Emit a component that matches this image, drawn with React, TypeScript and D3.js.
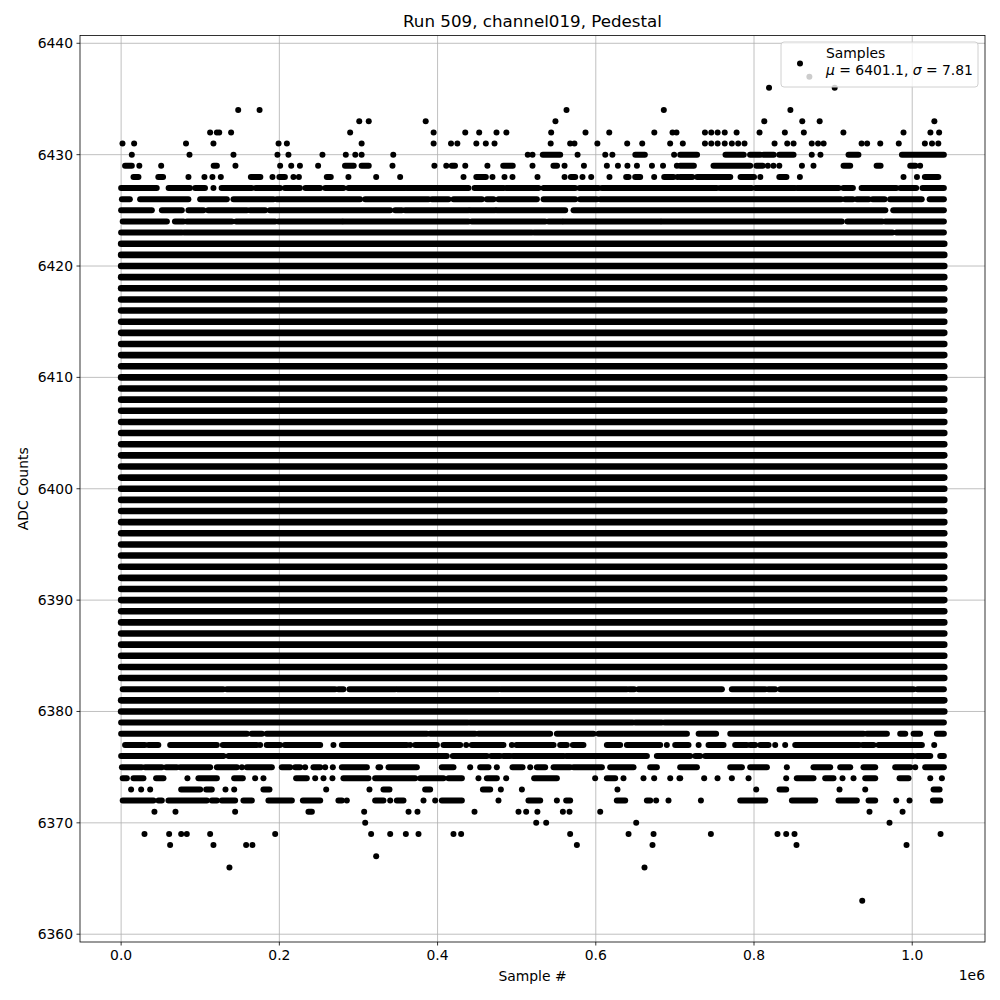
import React from 'react';
import * as d3 from 'd3';

// Sample numbers are in units of 1e6 (the axis offset).
// In each level list a number is one sample, a pair [a, b] a run of samples.
type Run = number | [number, number];

const title = 'Run 509, channel019, Pedestal';
const sampleSpan = [0, 1.0405];
const xTicks = [0, 0.2, 0.4, 0.6, 0.8, 1.0];
const xTickLabels = ['0.0', '0.2', '0.4', '0.6', '0.8', '1.0'];
const yTicks = [6360, 6370, 6380, 6390, 6400, 6410, 6420, 6430, 6440];

// ADC codes hit continuously over the whole run
const solidLevels = [
  6380, 6381, 6383, 6384, 6385, 6386, 6387, 6388, 6389, 6390, 6391, 6392,
  6393, 6394, 6395, 6396, 6397, 6398, 6399, 6400, 6401, 6402, 6403, 6404,
  6405, 6406, 6407, 6408, 6409, 6410, 6411, 6412, 6413, 6414, 6415, 6416,
  6417, 6418, 6419, 6420, 6421, 6422,
];

const seg6437: Run[] = [0.870];
const seg6436: Run[] = [0.819, 0.902];
const seg6434: Run[] = [0.148, 0.175, 0.563, 0.686, 0.846];
const seg6433: Run[] = [0.301, 0.313, 0.385, 0.549, 0.813, 0.861, 0.883, 1.028];
const seg6432: Run[] = [
  0.1125, 0.121, 0.124, 0.139, 0.2895, 0.395, 0.435, 0.4526, 0.4745, 0.487,
  0.5436, 0.587, 0.617, 0.674, 0.697, 0.702, 0.738, 0.746, 0.754, 0.763, 0.778,
  0.807, 0.839, 0.863, 0.913, 0.989, 1.023, 1.034,
];
const seg6431: Run[] = [
  0.0017, 0.0164, 0.082, 0.1167, 0.199, 0.2095, 0.304, 0.395, 0.417, 0.425,
  0.449, 0.461, 0.472, 0.543, 0.5676, 0.573, 0.602, 0.6397, 0.6587, 0.694,
  0.710, 0.738, 0.746, 0.754, 0.763, 0.772, 0.780, 0.788, 0.826, 0.842, 0.850,
  0.873, 0.881, 0.888, 0.936, 0.943, 0.9596, 0.983, 1.016, 1.025, 1.033,
];
const seg6430: Run[] = [
  0.0135, 0.0864, 0.142, 0.1976, 0.2115, 0.2545, 0.284, 0.296, 0.304, 0.344,
  0.514, 0.520, [0.533, 0.555], 0.577, 0.612, 0.621, [0.650, 0.662], 0.699,
  [0.7067, 0.728], [0.764, 0.787], [0.795, 0.808], [0.812, 0.825],
  [0.832, 0.850], 0.873, 0.884, [0.9195, 0.932], [0.987, 1.040],
];
const seg6429: Run[] = [
  [0.005, 0.0135], 0.023, 0.0506, [0.117, 0.121], 0.1445, 0.201, 0.215, 0.226,
  0.249, [0.283, 0.294], [0.304, 0.313], 0.343, 0.396, 0.411, [0.418, 0.422],
  0.435, 0.463, [0.483, 0.495], 0.520, [0.5465, 0.551], 0.5605, 0.585, 0.614,
  0.628, 0.640, 0.652, 0.671, 0.685, 0.7025, [0.7067, 0.724], [0.7488, 0.7952],
  [0.803, 0.811], 0.8175, 0.8246, 0.832, 0.8606, 0.8752, [0.9132, 0.9216],
  [0.955, 0.960], [0.9975, 1.004], 1.010,
];
const seg6428: Run[] = [
  [0.0156, 0.0219], [0.047, 0.053], 0.0851, 0.1053, 0.1154, 0.126,
  [0.164, 0.176], 0.1913, [0.200, 0.207], 0.2178, 0.2247, [0.260, 0.265],
  0.2873, 0.3224, 0.3527, 0.4328, [0.449, 0.461], 0.4694, 0.4846, 0.4947,
  0.5263, 0.5605, [0.5685, 0.574], 0.5832, 0.5942, 0.6173, [0.6384, 0.6414],
  [0.6498, 0.6561], 0.6738, [0.6865, 0.6982], 0.7033, [0.7067, 0.722],
  [0.728, 0.770], [0.783, 0.800], 0.808, [0.832, 0.841], 0.858, 0.989, 1.006,
  [1.016, 1.033],
];
const seg6427: Run[] = [
  [0.0, 0.045], [0.060, 0.087], [0.0936, 0.106], 0.1167, [0.127, 0.165],
  [0.170, 0.201], [0.207, 0.226], [0.233, 0.2516], [0.258, 0.281],
  [0.2873, 0.359], [0.361, 0.439], [0.4467, 0.4833], [0.4867, 0.5276],
  [0.534, 0.574], [0.5795, 0.6034], [0.6077, 0.753], [0.757, 0.797],
  [0.802, 0.852], [0.855, 0.907], [0.913, 0.925], [0.936, 0.980],
  [0.985, 1.005], [1.013, 1.040],
];
const seg6426: Run[] = [
  [0.001, 0.011], [0.024, 0.085], [0.0999, 0.1336], [0.142, 0.1925],
  [0.1968, 0.302], [0.3085, 0.3885], [0.3929, 0.4138], [0.4202, 0.4559],
  [0.4623, 0.4707], [0.4770, 0.5255], [0.534, 0.574], [0.5802, 0.6014],
  [0.6056, 0.910], [0.915, 0.925], [0.930, 0.945], [0.950, 0.965],
  [0.972, 1.012], [1.022, 1.040],
];
const seg6425: Run[] = [
  [0.0, 0.0388], [0.0515, 0.0767], [0.0851, 0.104], [0.110, 0.159],
  [0.163, 0.182], [0.188, 0.3401], [0.3464, 0.3548], [0.359, 0.439],
  [0.4412, 0.4728], [0.4749, 0.5613], [0.5719, 0.966], [0.976, 1.040],
];
const seg6424: Run[] = [
  [0.002, 0.0578], [0.068, 0.0788], [0.083, 0.140], [0.1454, 0.1947],
  [0.1989, 0.279], [0.281, 0.439], [0.4432, 0.536], [0.5402, 0.5571],
  [0.5592, 0.5993], [0.6014, 0.6814], [0.6835, 0.911], [0.918, 0.962],
  [0.966, 1.040],
];
const seg6423: Run[] = [[0.0, 0.0767], [0.0797, 0.5192], [0.5222, 0.975], [0.980, 1.040]];
const seg6382: Run[] = [
  [0.002, 0.129], [0.1336, 0.2705], [0.2747, 0.281], [0.2886, 0.3464],
  [0.3493, 0.477], [0.480, 0.6393], [0.6426, 0.6486], [0.654, 0.7594],
  [0.772, 0.8142], [0.8183, 0.8268], [0.8331, 1.0017], [1.0067, 1.040],
];
const seg6379: Run[] = [[0.0, 0.438], [0.441, 0.6466], [0.650, 0.6835], [0.687, 1.040]];
const seg6378: Run[] = [
  [0.0, 0.159], [0.165, 0.178], [0.184, 0.3865], [0.3906, 0.4475],
  [0.4517, 0.5423], [0.5508, 0.5971], [0.6034, 0.7152], [0.730, 0.7521],
  [0.770, 0.9384], [0.9427, 0.968], [0.9848, 0.9912], [1.0017, 1.010],
  [1.0312, 1.040],
];
const seg6377: Run[] = [
  [0.005, 0.030], [0.0345, 0.047], [0.062, 0.121], [0.1285, 0.1716], 0.1757,
  [0.184, 0.201], [0.207, 0.2516], 0.2684, [0.279, 0.3612], 0.3654,
  [0.3717, 0.3991], [0.4075, 0.4286], 0.4362, [0.4433, 0.4833], 0.4939,
  [0.4997, 0.5466], [0.555, 0.5634], [0.571, 0.5844], [0.614, 0.6308],
  [0.6393, 0.6814], 0.6898, [0.7004, 0.7172], 0.730, [0.7425, 0.7615],
  [0.7762, 0.791], [0.7952, 0.8015], [0.8078, 0.8184], 0.8268, 0.8394,
  [0.8521, 0.933], [0.9372, 0.9511], [0.9574, 1.0122], 1.0278,
];
const seg6376: Run[] = [
  [0.0, 0.1294], [0.1357, 0.4117], [0.4193, 0.4623], [0.4678, 0.4791],
  [0.4833, 0.4918], [0.4952, 0.5592], [0.5626, 0.6646], [0.6772, 0.7193],
  [0.7257, 0.732], [0.7383, 1.0017], [1.0059, 1.0228], [1.0354, 1.040],
];
const seg6375: Run[] = [
  [0.001, 0.026], [0.0303, 0.0514], [0.0569, 0.0704], [0.0746, 0.1125],
  [0.121, 0.1463], 0.1526, [0.1589, 0.1905], [0.2031, 0.2137], [0.22, 0.2263],
  0.2326, [0.2431, 0.2516], 0.2579, 0.2676, [0.279, 0.3106], [0.3253, 0.3274],
  [0.338, 0.3738], [0.4054, 0.4201], 0.4412, [0.4539, 0.4644], 0.4749,
  [0.4947, 0.5074], 0.5171, [0.5255, 0.536], [0.5466, 0.5676], [0.5718, 0.6077],
  [0.6182, 0.6477], [0.6688, 0.6772], [0.7067, 0.7278], [0.770, 0.7847],
  [0.7952, 0.8163], 0.8415, [0.8752, 0.8963], [0.909, 0.9216], [0.9384, 0.9532],
  [0.9785, 0.9975], 1.0038, [1.0164, 1.040],
];
const seg6374: Run[] = [
  [0.002, 0.0072], [0.0156, 0.0282], [0.0442, 0.0535], 0.0838, [0.0977, 0.121],
  [0.1429, 0.1538], 0.1694, 0.1799, [0.2212, 0.2347], 0.2453, 0.2558, 0.2671,
  [0.281, 0.3126], [0.3211, 0.3717], [0.378, 0.4075], [0.4138, 0.4307], 0.4517,
  [0.4623, 0.4749], 0.4867, [0.5221, 0.5508], 0.5992, [0.614, 0.6245], 0.635,
  0.6603, 0.6738, 0.6941, [0.7058, 0.7067], 0.737, 0.7539, 0.772, 0.7931, 0.8407,
  [0.8541, 0.8752], [0.890, 0.9005], 0.9119, 0.9258, [0.9406, 0.9532],
  [0.984, 0.9953], 1.0228, 1.0375,
];
const seg6373: Run[] = [
  0.0126, 0.0253, 0.0367, [0.0759, 0.0999], [0.1075, 0.1146], 0.1319, 0.1429,
  [0.1799, 0.1875], 0.2592, 0.3139, [0.3316, 0.3392], [0.3843, 0.3906],
  [0.4573, 0.4665], 0.48, 0.5066, 0.6274, 0.8028, [0.8323, 0.8407], 0.9081,
  0.9406, [1.027, 1.0346],
];
const seg6372: Run[] = [
  [0.002, 0.0408], [0.0472, 0.0514], [0.0598, 0.1083], [0.1146, 0.121],
  [0.1273, 0.1441], [0.1546, 0.1652], [0.1862, 0.2158], [0.2297, 0.2516],
  [0.2747, 0.279], 0.2853, [0.3211, 0.3316], 0.3401, [0.3485, 0.3569], 0.3822,
  0.397, [0.4054, 0.4307], 0.477, [0.5149, 0.5297], 0.5508, [0.5626, 0.5676],
  [0.6266, 0.6372], [0.6646, 0.6688], 0.6763, 0.6919, 0.7329, [0.7826, 0.8142],
  [0.8479, 0.8774], [0.9068, 0.930], [0.9448, 0.9532], 0.9798, 0.9966,
  [1.0262, 1.0354],
];
const seg6371: Run[] = [
  0.0421, 0.0687, 0.1441, [0.2368, 0.2411], 0.3072, 0.3633, 0.3746, 0.4467,
  0.5023, 0.512, 0.5262, 0.5584, 0.5668, 0.6056, 0.946, 0.9878,
];
const seg6370: Run[] = [0.3085, 0.5247, 0.5373, 0.6511, 0.9713];
const seg6369: Run[] = [
  0.0295, 0.0607, 0.0759, 0.083, 0.1125, 0.1947, 0.316, 0.3401, 0.3599, 0.3759,
  0.4201, 0.4298, 0.5676, 0.6414, 0.673, 0.7455, 0.8297, 0.8407, 0.8512, 1.0358,
];
const seg6368: Run[] = [0.0619, 0.1167, 0.158, 0.166, 0.5761, 0.6717, 0.8537, 0.9928];
const seg6367: Run[] = [0.3224];
const seg6366: Run[] = [0.1369, 0.6616];
const seg6363: Run[] = [0.9368];

const partialLevels: [number, Run[]][] = [
  [6437, seg6437], [6436, seg6436], [6434, seg6434], [6433, seg6433],
  [6432, seg6432], [6431, seg6431], [6430, seg6430], [6429, seg6429],
  [6428, seg6428], [6427, seg6427], [6426, seg6426], [6425, seg6425],
  [6424, seg6424], [6423, seg6423], [6382, seg6382], [6379, seg6379],
  [6378, seg6378], [6377, seg6377], [6376, seg6376], [6375, seg6375],
  [6374, seg6374], [6373, seg6373], [6372, seg6372], [6371, seg6371],
  [6370, seg6370], [6369, seg6369], [6368, seg6368], [6367, seg6367],
  [6366, seg6366], [6363, seg6363],
];

const legendLabel = ['Samples', 'μ = 6401.1, σ = 7.81'];

const W = 1000;
const H = 1000;
const margin = { top: 35.5, right: 15, bottom: 58, left: 80 };
const font = '"DejaVu Sans", sans-serif';
const R = 3;
const BAND = 6.6;

export default function App() {
  const x = d3.scaleLinear().domain([-0.052, 1.092]).range([margin.left, W - margin.right]);
  const y = d3.scaleLinear().domain([6359.3, 6440.7]).range([H - margin.bottom, margin.top]);
  const [x0, x1] = x.range();
  const [yb, yt] = y.range();

  const runs = partialLevels.flatMap(([v, segs]) =>
    segs.map((s) => (Array.isArray(s) ? { v, a: s[0], b: s[1] } : { v, a: s, b: s }))
  );

  return (
    <svg width={W} height={H} style={{ position: 'absolute', left: 0, top: 0, background: '#fff' }}>
      <rect x={0} y={0} width={W} height={H} fill="#fff" />
      {/* grid */}
      <g stroke="#b0b0b0" strokeWidth={0.8}>
        {xTicks.map((t) => (
          <line key={'gx' + t} x1={x(t)} x2={x(t)} y1={yt} y2={yb} />
        ))}
        {yTicks.map((t) => (
          <line key={'gy' + t} x1={x0} x2={x1} y1={y(t)} y2={y(t)} />
        ))}
      </g>
      {/* samples */}
      <g stroke="#000" strokeLinecap="round" fill="#000">
        {solidLevels.map((v) => (
          <line key={'s' + v} x1={x(sampleSpan[0])} x2={x(sampleSpan[1])} y1={y(v)} y2={y(v)} strokeWidth={BAND} />
        ))}
        {runs.map((r, i) =>
          r.a === r.b ? (
            <circle key={'p' + i} cx={x(r.a)} cy={y(r.v)} r={R} stroke="none" />
          ) : (
            <line key={'p' + i} x1={x(r.a)} x2={x(r.b)} y1={y(r.v)} y2={y(r.v)} strokeWidth={2 * R} />
          )
        )}
      </g>
      {/* frame */}
      <rect x={x0} y={yt} width={x1 - x0} height={yb - yt} fill="none" stroke="#000" strokeWidth={0.8} />
      {/* ticks and labels */}
      <g fontFamily={font} fontSize={13.9} fill="#000">
        {xTicks.map((t, i) => (
          <g key={'tx' + t}>
            <line x1={x(t)} x2={x(t)} y1={yb} y2={yb + 3.5} stroke="#000" strokeWidth={0.8} />
            <text x={x(t)} y={yb + 18} textAnchor="middle">{xTickLabels[i]}</text>
          </g>
        ))}
        {yTicks.map((t) => (
          <g key={'ty' + t}>
            <line x1={x0 - 3.5} x2={x0} y1={y(t)} y2={y(t)} stroke="#000" strokeWidth={0.8} />
            <text x={x0 - 7} y={y(t) + 5} textAnchor="end">{t}</text>
          </g>
        ))}
        <text x={x1} y={980} textAnchor="end">1e6</text>
        <text x={(x0 + x1) / 2} y={981} textAnchor="middle">Sample #</text>
        <text transform={`translate(28,${(yt + yb) / 2}) rotate(-90)`} textAnchor="middle">ADC Counts</text>
      </g>
      <text x={(x0 + x1) / 2} y={27} textAnchor="middle" fontFamily={font} fontSize={16.7} fill="#000">
        {title}
      </text>
      {/* legend */}
      <g fontFamily={font} fontSize={13.9} fill="#000">
        <rect x={781} y={42} width={197} height={45} rx={3} fill="#fff" fillOpacity={0.8} stroke="#d0d0d0" strokeWidth={1} />
        <circle cx={800} cy={63.5} r={R} fill="#000" />
        <text x={826} y={58}>{legendLabel[0]}</text>
        <text x={826} y={75} style={{ whiteSpace: 'pre' }}>
          <tspan fontStyle="italic">μ</tspan>
          <tspan>{' = 6401.1, '}</tspan>
          <tspan fontStyle="italic">σ</tspan>
          <tspan>{' = 7.81'}</tspan>
        </text>
      </g>
    </svg>
  );
}
